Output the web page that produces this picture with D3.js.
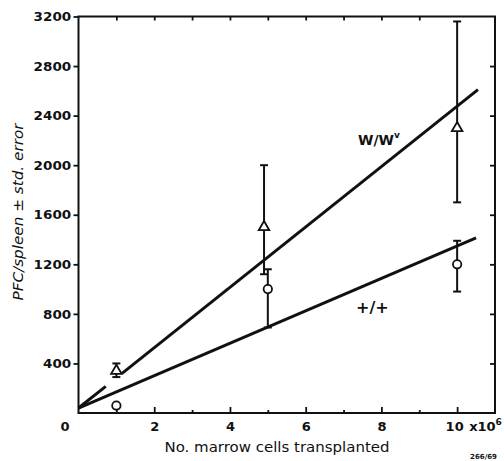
<!DOCTYPE html>
<html><head><meta charset="utf-8">
<script src="https://cdn.jsdelivr.net/npm/d3@7"></script>
<style>body{margin:0;background:#fff}</style></head>
<body>
<svg id="c" width="504" height="461"></svg>
<script>
// W/W^v (triangles)
const wX  = [1, 4.9, 10];
const wY  = [340, 1500, 2300];
const wLo = [290, 1120, 1700];
const wHi = [400, 2000, 3160];
// +/+ (circles)
const pX  = [1, 5, 10];
const pY  = [60, 1000, 1200];
const pLo = [null, 690, 980];
const pHi = [null, 1160, 1390];
// fitted lines
const wFitX = [0, 10.55], wFitY = [40, 2610], wGap = [0.72, 1.15];
const pFitX = [0, 10.5],  pFitY = [40, 1414];
// ticks
const yTickVals = [400, 800, 1200, 1600, 2000, 2400, 2800, 3200];
const yRightTicks = [400, 800, 1200, 1600, 2000, 2400, 2800];
const xMajor = [0, 2, 4, 6, 8, 10];
const xMinor = [1, 3, 5, 7, 9];
const xTop = [1, 2, 3, 4, 5, 6, 7, 8, 9];

const svg = d3.select("#c");
const x = d3.scaleLinear().domain([0, 11]).range([78.5, 495]);
const y = d3.scaleLinear().domain([0, 3200]).range([413, 16.5]);
const FONT = "DejaVu Sans, sans-serif";
const ink = "#111";

function clean(g){ g.select(".domain").remove(); g.selectAll("line").attr("stroke", ink).attr("stroke-width", 1.8); }

// left axis
const gl = svg.append("g").attr("transform", `translate(${x(0)},0)`)
  .call(d3.axisLeft(y).tickValues(yTickVals).tickSize(5).tickPadding(2).tickFormat(d3.format("d")));
clean(gl);
gl.selectAll("text").attr("font-family", FONT).attr("font-size", 13).attr("font-weight", "bold").attr("fill", ink)
  .attr("transform", "scale(1.04,1)");

// right axis (inward ticks)
const gr = svg.append("g").attr("transform", `translate(${x(11)},0)`)
  .call(d3.axisRight(y).tickValues(yRightTicks).tickSize(-5).tickFormat(""));
clean(gr);

// bottom major
const gb = svg.append("g").attr("transform", `translate(0,${y(0)})`)
  .call(d3.axisBottom(x).tickValues(xMajor).tickSize(-6).tickPadding(9).tickFormat(d3.format("d")));
clean(gb);
gb.selectAll("text").attr("font-family", FONT).attr("font-size", 13).attr("font-weight", "bold").attr("fill", ink)
  .attr("transform", d => d === 0 ? "translate(-14,0)" : (d === 10 ? "translate(-3,0)" : null));
gb.selectAll(".tick").filter(d => d === 0).select("line").remove();
// bottom minor
const gbm = svg.append("g").attr("transform", `translate(0,${y(0)})`)
  .call(d3.axisBottom(x).tickValues(xMinor).tickSize(-3).tickFormat(""));
clean(gbm);
// top ticks
const gt = svg.append("g").attr("transform", `translate(0,${y(3200)})`)
  .call(d3.axisTop(x).tickValues(xTop).tickSize(-4).tickFormat(""));
clean(gt);

// frame
svg.append("rect").attr("x", x(0)).attr("y", y(3200))
  .attr("width", x(11) - x(0)).attr("height", y(0) - y(3200))
  .attr("fill", "none").attr("stroke", ink).attr("stroke-width", 2);

// x10^6
const mult = svg.append("text").attr("x", x(10) + 12).attr("y", y(0) + 9).attr("dy", "0.71em")
  .attr("font-family", FONT).attr("font-size", 13).attr("font-weight", "bold").attr("fill", ink);
mult.append("tspan").text("x10");
mult.append("tspan").attr("dy", -6).attr("font-size", 9).text("6");

// axis titles
svg.append("text").attr("x", 277).attr("y", 452)
  .attr("text-anchor", "middle").attr("font-family", FONT).attr("font-size", 14).attr("fill", ink)
  .attr("textLength", 225).attr("lengthAdjust", "spacingAndGlyphs")
  .text("No. marrow cells transplanted");
svg.append("text").attr("transform", "translate(23,212) rotate(-90)")
  .attr("text-anchor", "middle").attr("font-family", FONT).attr("font-size", 14)
  .attr("font-style", "italic").attr("fill", ink)
  .attr("textLength", 177).attr("lengthAdjust", "spacingAndGlyphs")
  .text("PFC/spleen \u00b1 std. error");

// fit lines
const fit = (fx, fy) => d3.scaleLinear().domain(fx).range(fy);
const wf = fit(wFitX, wFitY), pf = fit(pFitX, pFitY);
function seg(f, a, b){
  svg.append("line").attr("x1", x(a)).attr("y1", y(f(a))).attr("x2", x(b)).attr("y2", y(f(b)))
    .attr("stroke", ink).attr("stroke-width", 3);
}
seg(wf, wFitX[0], wGap[0]);
seg(wf, wGap[1], wFitX[1]);
seg(pf, pFitX[0], pFitX[1]);

// error bars
function errbars(xs, lo, hi){
  xs.forEach((xv, i) => {
    if (lo[i] == null) return;
    const g = svg.append("g").attr("stroke", ink).attr("stroke-width", 2);
    g.append("line").attr("x1", x(xv)).attr("x2", x(xv)).attr("y1", y(lo[i])).attr("y2", y(hi[i]));
    [lo[i], hi[i]].forEach(v => g.append("line").attr("x1", x(xv) - 4).attr("x2", x(xv) + 4)
      .attr("y1", y(v)).attr("y2", y(v)));
  });
}
errbars(wX, wLo, wHi);
errbars(pX, pLo, pHi);

// markers
const tri = d3.symbol().type(d3.symbolTriangle).size(48);
wX.forEach((xv, i) => svg.append("path").attr("d", tri())
  .attr("transform", `translate(${x(xv)},${y(wY[i])})`)
  .attr("fill", "#fff").attr("stroke", ink).attr("stroke-width", 1.8));
pX.forEach((xv, i) => svg.append("circle").attr("cx", x(xv)).attr("cy", y(pY[i])).attr("r", 4.2)
  .attr("fill", "#fff").attr("stroke", ink).attr("stroke-width", 1.8));

// series labels
const wl = svg.append("text").attr("x", 358).attr("y", 145)
  .attr("font-family", FONT).attr("font-size", 14).attr("font-weight", "bold").attr("fill", ink);
wl.append("tspan").text("W/W");
wl.append("tspan").attr("dy", -7).attr("font-size", 9).text("v");
svg.append("text").attr("x", 356).attr("y", 313)
  .attr("font-family", FONT).attr("font-size", 16).attr("font-weight", "bold").attr("fill", ink)
  .text("+/+");

// figure number
svg.append("text").attr("x", 497).attr("y", 459).attr("text-anchor", "end")
  .attr("font-family", FONT).attr("font-size", 7).attr("font-weight", "bold").attr("fill", ink)
  .text("266/69");
</script>
</body></html>
